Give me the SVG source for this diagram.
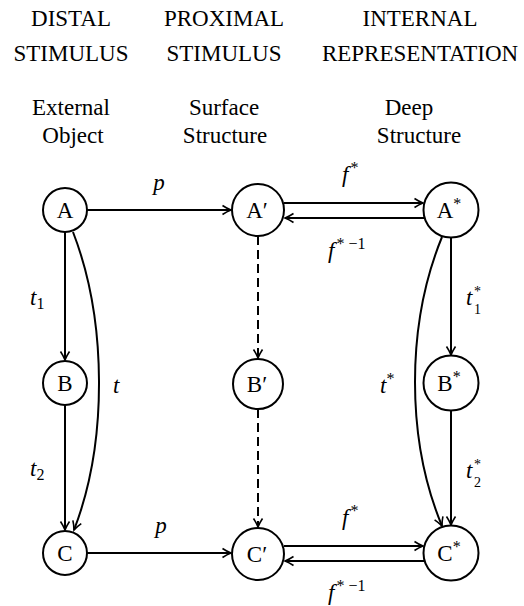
<svg xmlns="http://www.w3.org/2000/svg" width="524" height="606" viewBox="0 0 524 606">
<style>
text{font-family:"Liberation Serif","Times New Roman",serif;font-size:23px;fill:#000}
.it{font-style:italic}
.sm{font-size:16px}
.xs{font-size:14px}
.node circle{fill:#fff;stroke:#000;stroke-width:2}
.edge{fill:none;stroke:#000;stroke-width:2}
.dash{stroke-dasharray:9 5}
</style>
<defs>
<marker id="ah" markerWidth="12" markerHeight="12" refX="10" refY="6" orient="auto" markerUnits="userSpaceOnUse">
<path d="M1.5,1.5 Q6,4.5 10,6 Q6,7.5 1.5,10.5" fill="none" stroke="#000" stroke-width="1.6"/>
</marker>
</defs>
<rect width="524" height="606" fill="#fff"/>
<g id="headers" text-anchor="middle">
<text x="71" y="26">DISTAL</text>
<text x="71" y="61">STIMULUS</text>
<text x="224" y="26">PROXIMAL</text>
<text x="224" y="61">STIMULUS</text>
<text x="420" y="26">INTERNAL</text>
<text x="420" y="61">REPRESENTATION</text>
<text x="71" y="115">External</text>
<text x="73" y="143">Object</text>
<text x="224" y="115">Surface</text>
<text x="225" y="143">Structure</text>
<text x="409" y="115">Deep</text>
<text x="419" y="143">Structure</text>
</g>
<g id="connectors">
<path class="edge" d="M87,210 H231" marker-end="url(#ah)"/>
<path class="edge" d="M284,203 H423" marker-end="url(#ah)"/>
<path class="edge" d="M424,218 H285" marker-end="url(#ah)"/>
<path class="edge" d="M65,232 V360" marker-end="url(#ah)"/>
<path class="edge" d="M65,405 V530" marker-end="url(#ah)"/>
<path class="edge" d="M73,232 C107,320 108,442 74,530" marker-end="url(#ah)"/>
<path class="edge" d="M87,553 H231" marker-end="url(#ah)"/>
<path class="edge dash" d="M258,236 V358" marker-end="url(#ah)"/>
<path class="edge dash" d="M258,409 V527" marker-end="url(#ah)"/>
<path class="edge" d="M451,237.5 V355" marker-end="url(#ah)"/>
<path class="edge" d="M451,410.5 V525" marker-end="url(#ah)"/>
<path class="edge" d="M442,237 C406,325 406,439 442,526" marker-end="url(#ah)"/>
<path class="edge" d="M284,546 H423" marker-end="url(#ah)"/>
<path class="edge" d="M424,561 H285" marker-end="url(#ah)"/>
<text class="it" x="159" y="190" text-anchor="middle">p</text>
<text class="it" x="161" y="533" text-anchor="middle">p</text>
<text x="30" y="305"><tspan class="it">t</tspan><tspan class="sm" dy="4">1</tspan></text>
<text x="30" y="476"><tspan class="it">t</tspan><tspan class="sm" dy="4">2</tspan></text>
<text class="it" x="113" y="393">t</text>
<text x="380" y="393"><tspan class="it">t</tspan><tspan class="sm" dy="-9">*</tspan></text>
<text class="it" x="466" y="305">t</text>
<text class="xs" x="474" y="296">*</text>
<text class="xs" x="474" y="314">1</text>
<text class="it" x="466" y="478">t</text>
<text class="xs" x="474" y="469">*</text>
<text class="xs" x="474" y="487">2</text>
<text x="342" y="182"><tspan class="it">f</tspan><tspan class="sm" dx="2" dy="-9">*</tspan></text>
<text x="328" y="258"><tspan class="it">f</tspan><tspan class="sm" dx="2" dy="-9">* −1</tspan></text>
<text x="342" y="525"><tspan class="it">f</tspan><tspan class="sm" dx="2" dy="-9">*</tspan></text>
<text x="328" y="600"><tspan class="it">f</tspan><tspan class="sm" dx="2" dy="-9">* −1</tspan></text>
</g>
<g id="A" class="node"><circle cx="65" cy="210" r="22"/><text x="65" y="218" text-anchor="middle">A</text></g>
<g id="B" class="node"><circle cx="65" cy="383" r="22"/><text x="65" y="391" text-anchor="middle">B</text></g>
<g id="C" class="node"><circle cx="65" cy="553" r="22"/><text x="65" y="561" text-anchor="middle">C</text></g>
<g id="Ap" class="node"><circle cx="258" cy="210" r="26"/><text x="257" y="218" text-anchor="middle">A′</text></g>
<g id="Bp" class="node"><circle cx="258" cy="384" r="25"/><text x="257" y="392" text-anchor="middle">B′</text></g>
<g id="Cp" class="node"><circle cx="258" cy="554" r="26"/><text x="257" y="562" text-anchor="middle">C′</text></g>
<g id="As" class="node"><circle cx="451" cy="210" r="27.5"/><text x="449" y="218" text-anchor="middle">A<tspan class="sm" dy="-9">*</tspan></text></g>
<g id="Bs" class="node"><circle cx="451" cy="383" r="27.5"/><text x="449" y="391" text-anchor="middle">B<tspan class="sm" dy="-9">*</tspan></text></g>
<g id="Cs" class="node"><circle cx="451" cy="553" r="27.5"/><text x="449" y="561" text-anchor="middle">C<tspan class="sm" dy="-9">*</tspan></text></g>
</svg>
